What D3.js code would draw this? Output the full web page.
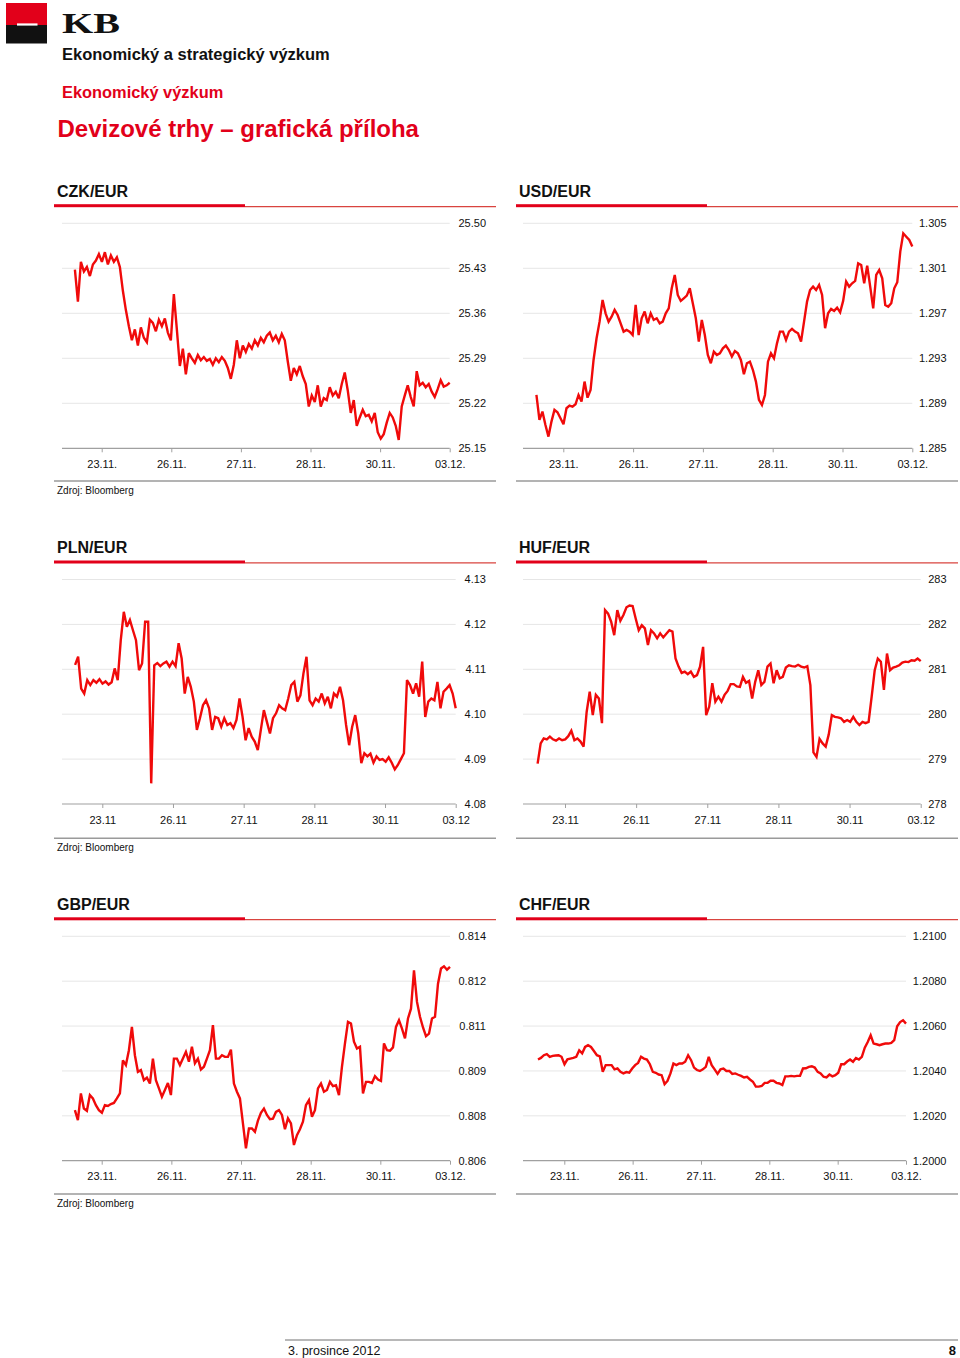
<!DOCTYPE html>
<html><head><meta charset="utf-8">
<script src="https://cdn.jsdelivr.net/npm/d3@7"></script>
<style>body{margin:0;background:#fff}svg{display:block}</style>
</head><body>
<svg id="page" width="960" height="1358"></svg>
<script>
// ---------- DATA ----------
const dateLabelsDot = ["23.11.","26.11.","27.11.","28.11.","30.11.","03.12."];
const dateLabelsNoDot = ["23.11","26.11","27.11","28.11","30.11","03.12"];

const czkTicks = [25.15,25.22,25.29,25.36,25.43,25.50];
const czkTickLabels = ["25.15","25.22","25.29","25.36","25.43","25.50"];
const czkValues = [25.428,25.378,25.440,25.425,25.432,25.418,25.436,25.442,25.452,25.440,
25.455,25.436,25.450,25.440,25.447,25.432,25.395,25.365,25.340,25.318,
25.335,25.310,25.338,25.322,25.315,25.350,25.345,25.332,25.350,25.340,
25.352,25.330,25.318,25.390,25.335,25.278,25.305,25.265,25.298,25.290,
25.283,25.295,25.287,25.292,25.286,25.289,25.280,25.290,25.284,25.292,
25.286,25.275,25.258,25.280,25.318,25.290,25.310,25.300,25.312,25.305,
25.318,25.310,25.322,25.315,25.325,25.330,25.318,25.325,25.315,25.328,
25.318,25.285,25.255,25.275,25.265,25.278,25.262,25.250,25.215,25.232,
25.222,25.248,25.215,25.228,25.225,25.245,25.232,25.238,25.228,25.250,
25.268,25.240,25.205,25.225,25.185,25.198,25.210,25.200,25.202,25.192,
25.205,25.175,25.165,25.172,25.190,25.205,25.198,25.185,25.163,25.215,
25.232,25.248,25.230,25.215,25.270,25.248,25.252,25.245,25.250,25.238,
25.230,25.242,25.256,25.246,25.248,25.252];

const usdTicks = [1.285,1.289,1.293,1.297,1.301,1.305];
const usdTickLabels = ["1.285","1.289","1.293","1.297","1.301","1.305"];
const usdValues = [1.28974,1.28752,1.28826,1.28707,1.28604,1.28737,1.28841,1.28820,1.28767,1.28713,
1.28856,1.28879,1.28870,1.28891,1.28974,1.28915,1.29093,1.28950,1.29018,1.29285,
1.29478,1.29626,1.29819,1.29700,1.29626,1.29670,1.29730,1.29685,1.29611,1.29537,
1.29552,1.29537,1.29507,1.29774,1.29507,1.29656,1.29715,1.29611,1.29700,1.29641,
1.29656,1.29611,1.29626,1.29700,1.29744,1.29922,1.30041,1.29863,1.29810,1.29833,
1.29857,1.29922,1.29789,1.29656,1.29448,1.29641,1.29507,1.29330,1.29256,1.29359,
1.29330,1.29344,1.29389,1.29413,1.29374,1.29315,1.29365,1.29344,1.29285,1.29158,
1.29256,1.29270,1.29196,1.29093,1.28930,1.28885,1.28974,1.29270,1.29344,1.29300,
1.29433,1.29537,1.29537,1.29463,1.29537,1.29561,1.29537,1.29522,1.29448,1.29626,
1.29804,1.29907,1.29937,1.29907,1.29952,1.29863,1.29567,1.29700,1.29739,1.29721,
1.29750,1.29709,1.29810,1.29982,1.29937,1.29967,1.29988,1.30144,1.30130,1.29967,
1.30124,1.29937,1.29744,1.30041,1.30085,1.30011,1.29774,1.29759,1.29789,1.29922,
1.29976,1.30248,1.30411,1.30381,1.30352,1.30293];

const plnTicks = [4.08,4.09,4.10,4.11,4.12,4.13];
const plnTickLabels = ["4.08","4.09","4.10","4.11","4.12","4.13"];
const plnValues = [4.1110,4.1128,4.1057,4.1046,4.1076,4.1065,4.1076,4.1070,4.1078,4.1068,
4.1073,4.1066,4.1071,4.1102,4.1076,4.1165,4.1228,4.1195,4.1210,4.1187,
4.1165,4.1098,4.1113,4.1206,4.1206,4.0846,4.1109,4.1114,4.1107,4.1113,
4.1117,4.1106,4.1117,4.1107,4.1158,4.1124,4.1046,4.1083,4.1061,4.1028,
4.0965,4.0991,4.1020,4.1031,4.1013,4.0965,4.0994,4.0991,4.0972,4.0991,
4.0976,4.0980,4.0969,4.0987,4.1035,4.0994,4.0942,4.0969,4.0950,4.0939,
4.0920,4.0965,4.1009,4.0983,4.0957,4.0991,4.1002,4.1020,4.1013,4.1009,
4.1035,4.1065,4.1072,4.1028,4.1042,4.1091,4.1128,4.1031,4.1020,4.1035,
4.1028,4.1046,4.1024,4.1039,4.1013,4.1046,4.1039,4.1061,4.1031,4.0976,
4.0931,4.0972,4.0998,4.0957,4.0891,4.0913,4.0906,4.0912,4.0892,4.0906,
4.0898,4.0900,4.0894,4.0904,4.0892,4.0877,4.0887,4.0900,4.0913,4.1076,
4.1065,4.1046,4.1069,4.1039,4.1117,4.0994,4.1028,4.1035,4.1031,4.1072,
4.1013,4.1050,4.1057,4.1065,4.1046,4.1013];

const hufTicks = [278,279,280,281,282,283];
const hufTickLabels = ["278","279","280","281","282","283"];
const hufValues = [278.90,279.35,279.46,279.44,279.50,279.44,279.41,279.46,279.42,279.44,
279.51,279.63,279.42,279.46,279.39,279.28,280.05,280.50,279.98,280.43,
280.35,279.80,282.32,282.24,282.06,281.76,282.32,282.08,282.21,282.38,
282.42,282.41,282.13,281.87,281.98,281.91,281.54,281.87,281.80,281.69,
281.80,281.71,281.79,281.87,281.84,281.24,281.06,280.92,280.95,280.89,
280.95,280.83,280.87,281.06,281.50,279.98,280.17,280.69,280.28,280.39,
280.28,280.43,280.52,280.67,280.67,280.62,280.61,280.83,280.70,280.74,
280.35,280.72,280.98,280.65,280.72,281.06,281.13,280.69,280.98,280.80,
280.83,281.04,281.09,281.07,281.06,281.10,281.06,281.04,281.07,280.65,
279.15,279.05,279.45,279.35,279.28,279.55,279.98,279.94,279.93,279.91,
279.83,279.87,279.83,279.94,279.83,279.76,279.83,279.80,279.83,280.39,
280.98,281.24,281.17,280.54,281.35,280.98,281.04,281.06,281.09,281.15,
281.17,281.16,281.20,281.19,281.24,281.18];

const gbpTicks = [0.806,0.8076,0.8092,0.8108,0.8124,0.814];
const gbpTickLabels = ["0.806","0.808","0.809","0.811","0.812","0.814"];
const gbpValues = [0.80780,0.80745,0.80840,0.80786,0.80778,0.80834,0.80822,0.80798,0.80780,0.80771,
0.80798,0.80795,0.80802,0.80806,0.80822,0.80840,0.80958,0.80941,0.80994,0.81077,
0.80976,0.80917,0.80923,0.80887,0.80896,0.80875,0.80964,0.80887,0.80858,0.80828,
0.80852,0.80877,0.80834,0.80964,0.80964,0.80941,0.80964,0.80988,0.80953,0.81006,
0.80947,0.80964,0.80925,0.80935,0.80964,0.80994,0.81083,0.80964,0.80964,0.80976,
0.80970,0.80970,0.80996,0.80875,0.80846,0.80822,0.80733,0.80644,0.80715,0.80715,
0.80703,0.80743,0.80771,0.80786,0.80763,0.80748,0.80750,0.80774,0.80780,0.80763,
0.80712,0.80751,0.80733,0.80656,0.80691,0.80712,0.80739,0.80798,0.80816,0.80757,
0.80780,0.80858,0.80875,0.80846,0.80852,0.80881,0.80866,0.80869,0.80834,0.80935,
0.81018,0.81095,0.81089,0.81024,0.81000,0.81006,0.80840,0.80881,0.80881,0.80877,
0.80901,0.80889,0.80884,0.81018,0.80994,0.80992,0.81004,0.81077,0.81101,0.81071,
0.81036,0.81107,0.81142,0.81279,0.81166,0.81113,0.81075,0.81044,0.81053,0.81107,
0.81113,0.81231,0.81285,0.81293,0.81281,0.81291];

const chfTicks = [1.2000,1.2020,1.2040,1.2060,1.2080,1.2100];
const chfTickLabels = ["1.2000","1.2020","1.2040","1.2060","1.2080","1.2100"];
const chfValues = [1.20451,1.20458,1.20470,1.20475,1.20463,1.20467,1.20469,1.20470,1.20463,1.20430,
1.20452,1.20455,1.20458,1.20463,1.20492,1.20478,1.20507,1.20515,1.20507,1.20489,
1.20470,1.20465,1.20396,1.20426,1.20426,1.20426,1.20407,1.20411,1.20396,1.20389,
1.20395,1.20392,1.20411,1.20426,1.20436,1.20463,1.20455,1.20451,1.20430,1.20396,
1.20392,1.20384,1.20381,1.20341,1.20356,1.20389,1.20433,1.20426,1.20433,1.20433,
1.20441,1.20470,1.20448,1.20415,1.20404,1.20400,1.20407,1.20418,1.20463,1.20426,
1.20407,1.20387,1.20407,1.20411,1.20400,1.20400,1.20387,1.20389,1.20383,1.20378,
1.20371,1.20374,1.20362,1.20352,1.20330,1.20330,1.20333,1.20347,1.20347,1.20356,
1.20356,1.20347,1.20344,1.20337,1.20376,1.20376,1.20378,1.20376,1.20378,1.20378,
1.20411,1.20412,1.20418,1.20421,1.20415,1.20396,1.20389,1.20374,1.20371,1.20384,
1.20376,1.20381,1.20392,1.20430,1.20430,1.20442,1.20451,1.20441,1.20458,1.20451,
1.20463,1.20504,1.20529,1.20559,1.20522,1.20519,1.20515,1.20519,1.20522,1.20522,
1.20525,1.20537,1.20599,1.20618,1.20626,1.20611];

// ---------- STYLE / LAYOUT ----------
const RED = "#e2001a";
const LINE_RED = "#f00a0a";
const FONT = "'Liberation Sans', Arial, Helvetica, sans-serif";
const svg = d3.select("#page").attr("font-family", FONT);

// header
svg.append("rect").attr("x",6).attr("y",3).attr("width",41).attr("height",22).attr("fill",RED);
svg.append("rect").attr("x",6).attr("y",25).attr("width",41).attr("height",18.5).attr("fill","#111");
svg.append("rect").attr("x",17).attr("y",23.4).attr("width",20.5).attr("height",2.2).attr("fill","#fff");
svg.append("text").attr("x",62).attr("y",33).text("KB")
  .attr("font-family","'Liberation Serif', 'DejaVu Serif', serif").attr("font-size",29).attr("font-weight","bold")
  .attr("textLength",58).attr("lengthAdjust","spacingAndGlyphs").attr("fill","#111");
svg.append("text").attr("x",62).attr("y",59.5).text("Ekonomický a strategický výzkum")
  .attr("font-weight","bold").attr("font-size",16.5).attr("fill","#111");
svg.append("text").attr("x",62).attr("y",97.5).text("Ekonomický výzkum")
  .attr("font-weight","bold").attr("font-size",16.4).attr("fill",RED);
svg.append("text").attr("x",57.5).attr("y",136.5).text("Devizové trhy – grafická příloha")
  .attr("font-weight","bold").attr("font-size",24).attr("fill",RED);

const cols = [
  {panelX0:54, panelX1:496, titleX:57, gridLeft:62, labelRight:486, redEnd:245},
  {panelX0:516, panelX1:958, titleX:519, gridLeft:523, labelRight:946.5, redEnd:707}
];
const rows = [
  {titleY:196.7, ruleY:204.2, gridTop:223.3, gridBottom:448.3, sepY:481, srcY:494},
  {titleY:553.3, ruleY:560.5, gridTop:579.5, gridBottom:804, sepY:838.3, srcY:851},
  {titleY:910, ruleY:917.3, gridTop:936.3, gridBottom:1160.7, sepY:1194, srcY:1207}
];
const charts = [
  {title:"CZK/EUR", values:czkValues, ticks:czkTicks, tickLabels:czkTickLabels, dates:dateLabelsDot, col:0, row:0, tickX:[101.7,449.7]},
  {title:"USD/EUR", values:usdValues, ticks:usdTicks, tickLabels:usdTickLabels, dates:dateLabelsDot, col:1, row:0, tickX:[563.3,912.3]},
  {title:"PLN/EUR", values:plnValues, ticks:plnTicks, tickLabels:plnTickLabels, dates:dateLabelsNoDot, col:0, row:1, tickX:[102.3,455.7]},
  {title:"HUF/EUR", values:hufValues, ticks:hufTicks, tickLabels:hufTickLabels, dates:dateLabelsNoDot, col:1, row:1, tickX:[565,920.7]},
  {title:"GBP/EUR", values:gbpValues, ticks:gbpTicks, tickLabels:gbpTickLabels, dates:dateLabelsDot, col:0, row:2, tickX:[101.7,450]},
  {title:"CHF/EUR", values:chfValues, ticks:chfTicks, tickLabels:chfTickLabels, dates:dateLabelsDot, col:1, row:2, tickX:[564.3,906]}
];
const T0 = -0.385; // data start, in units of tick intervals

charts.forEach(c => {
  const C = cols[c.col], R = rows[c.row];
  const g = svg.append("g");
  g.append("text").attr("x",C.titleX).attr("y",R.titleY).text(c.title)
    .attr("font-weight","bold").attr("font-size",16).attr("fill","#111");
  g.append("rect").attr("x",C.panelX0).attr("y",R.ruleY).attr("width",C.redEnd-C.panelX0)
    .attr("height",3).attr("fill",RED);
  g.append("line").attr("x1",C.redEnd).attr("x2",C.panelX1)
    .attr("y1",R.ruleY+2.4).attr("y2",R.ruleY+2.4).attr("stroke","#d9443f").attr("stroke-width",1.2);

  const x = d3.scaleLinear().domain([0,5]).range(c.tickX);
  const y = d3.scaleLinear().domain([c.ticks[0], c.ticks[c.ticks.length-1]]).range([R.gridBottom, R.gridTop]);

  g.selectAll(".grid").data(c.ticks.slice(1)).join("line")
    .attr("x1",C.gridLeft).attr("x2",c.tickX[1])
    .attr("y1",d=>y(d)).attr("y2",d=>y(d))
    .attr("stroke","#e6e6e6").attr("stroke-width",1);
  g.append("line").attr("x1",C.gridLeft).attr("x2",c.tickX[1])
    .attr("y1",y(c.ticks[0])).attr("y2",y(c.ticks[0]))
    .attr("stroke","#a0a0a0").attr("stroke-width",1.2);

  const ax = d3.axisBottom(x).tickValues([0,1,2,3,4,5])
    .tickFormat((d,i)=>c.dates[i]).tickSize(4).tickPadding(8);
  const axg = g.append("g").attr("transform",`translate(0,${R.gridBottom})`).call(ax);
  axg.select(".domain").remove();
  axg.selectAll(".tick line").attr("stroke","#a0a0a0");
  axg.selectAll(".tick text").attr("font-size",11).attr("font-family",FONT).attr("fill","#111");

  g.selectAll(".ylab").data(c.ticks).join("text")
    .attr("x",C.labelRight).attr("y",d=>y(d)).attr("dy","0.35em")
    .attr("text-anchor","end").attr("font-size",11).attr("fill","#111")
    .text((d,i)=>c.tickLabels[i]);

  const n = c.values.length;
  const line = d3.line()
    .x((d,i)=>x(T0 + i*(5-T0)/(n-1)))
    .y(d=>y(d));
  g.append("path").datum(c.values).attr("d",line)
    .attr("fill","none").attr("stroke",LINE_RED).attr("stroke-width",2.4)
    .attr("stroke-linejoin","miter").attr("stroke-miterlimit",3);

  g.append("line").attr("x1",C.panelX0).attr("x2",C.panelX1)
    .attr("y1",R.sepY).attr("y2",R.sepY).attr("stroke","#9a9a9a").attr("stroke-width",1.5);
  if (c.col === 0) {
    g.append("text").attr("x",57).attr("y",R.srcY).text("Zdroj: Bloomberg")
      .attr("font-size",10).attr("fill","#111");
  }
});

// footer
svg.append("line").attr("x1",285).attr("x2",958).attr("y1",1340).attr("y2",1340)
  .attr("stroke","#a0a0a0").attr("stroke-width",1.5);
svg.append("text").attr("x",288).attr("y",1355).text("3. prosince 2012")
  .attr("font-size",12.5).attr("fill","#111");
svg.append("text").attr("x",956).attr("y",1355).attr("text-anchor","end").text("8")
  .attr("font-size",13).attr("font-weight","bold").attr("fill","#111");
</script>
</body></html>
